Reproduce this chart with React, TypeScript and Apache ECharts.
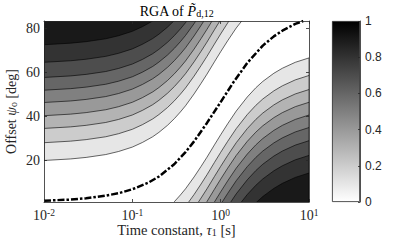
import React, { useEffect, useRef } from 'react';
import * as echarts from 'echarts';

// Contour geometry
const tauSamples = [0.01, 0.02, 0.03, 0.05, 0.07, 0.1, 0.13, 0.17, 0.2, 0.25, 0.3, 0.35, 0.4, 0.5, 0.6, 0.7, 0.85, 1, 1.2, 1.5, 2, 2.5, 3, 4, 5, 7, 10];
// ridge (centre of the white band) in degrees at each tau sample
const ridgePsi = [0.7, 1.4, 2.1, 3.4, 4.8, 6.8, 8.9, 11.5, 13.5, 16.7, 19.8, 22.8, 25.6, 31.0, 35.8, 40.0, 45.6, 50.2, 55.2, 61.0, 67.4, 71.6, 74.5, 78.2, 80.5, 83.2, 85.2];
const levels = [0.1, 0.2, 0.3, 0.4, 0.5, 0.6, 0.7, 0.8, 0.9];
// distance (deg) of each contour above the ridge (upper-left family)
const upperOffset = [19.2, 27.3, 33.8, 39.6, 45.6, 51.2, 57.0, 63.9, 71.9];
// distance (deg) of each contour below the ridge (lower-right family)
const lowerOffset = [18.6, 26.6, 33.0, 38.8, 44.6, 50.3, 56.3, 63.0, 71.0];

// dash-dot reference curve
const dashTau = [0.01, 0.02, 0.03, 0.05, 0.07, 0.1, 0.15, 0.2, 0.3, 0.4, 0.5, 0.7, 1, 1.4, 2, 3, 4, 5, 7, 8.6];
const dashPsi = [1.6, 2.1, 2.7, 3.9, 5.0, 6.8, 9.7, 12.6, 18.3, 23.7, 28.6, 37.0, 46.5, 55.6, 64.3, 72.2, 76.4, 79.0, 82.1, 83.4];

const yTicks = [20, 40, 60, 80];
const cbTicks = [0, 0.2, 0.4, 0.6, 0.8, 1];

const SERIF = '"Liberation Serif", "Times New Roman", serif';
const SANS = '"Liberation Sans", Arial, sans-serif';
const AX = '#262626';

export default function App() {
  const ref = useRef<HTMLDivElement>(null);
  useEffect(() => {
    document.body.style.margin = '0';
    const chart = echarts.init(ref.current!, null, { renderer: 'svg' });

    const bands: number[][] = [];
    levels.forEach((_, i) => bands.push([1, 40, 0, i]));
    levels.forEach((_, i) => bands.push([1, 40, 1, i]));

    const gray = (l: number) => {
      const g = Math.round(255 * (1 - l));
      return `rgb(${g},${g},${g})`;
    };

    const renderItem = (params: any, api: any) => {
      const fam = api.value(2);
      const k = api.value(3);
      const off = fam === 0 ? upperOffset[k] : -lowerOffset[k];
      const pts: number[][] = [];
      for (let i = 0; i < tauSamples.length; i++) {
        pts.push(api.coord([tauSamples[i], ridgePsi[i] + off]));
      }
      const edge = fam === 0 ? 400 : -400;
      pts.push(api.coord([tauSamples[tauSamples.length - 1], edge]));
      pts.push(api.coord([tauSamples[0], edge]));
      const cs = params.coordSys;
      return {
        type: 'group',
        clipPath: { type: 'rect', shape: { x: cs.x, y: cs.y, width: cs.width, height: cs.height } },
        children: [
          {
            type: 'polygon',
            shape: { points: pts },
            style: { fill: gray(levels[k]), stroke: '#000', lineWidth: 0.6 },
          },
        ],
      };
    };

    const lineStyle = { color: AX, width: 0.8 };
    const nameRich = (fill: string, size: number) => ({
      it: { fontFamily: SERIF, fontSize: size, fontStyle: 'italic', fill, lineHeight: 14 },
      sub: { fontFamily: SERIF, fontSize: Math.round(size * 0.68), fill, lineHeight: 8, verticalAlign: 'bottom' },
    });

    const option: any = {
      animation: false,
      grid: [
        { left: 44, top: 21, width: 265, height: 181 },
        { left: 332, top: 21, width: 28, height: 181 },
      ],
      xAxis: [
        {
          type: 'log', gridIndex: 0, min: 0.01, max: 10, logBase: 10, position: 'bottom', z: 10,
          axisLine: { show: true, lineStyle },
          axisTick: { show: true, inside: true, length: 3, lineStyle },
          splitLine: { show: false },
          axisLabel: {
            margin: 6,
            formatter: (v: number) => `{b|10}{s|${Math.round(Math.log10(v))}}`,
            rich: {
              b: { fontFamily: SERIF, fontSize: 14, color: AX, lineHeight: 14, verticalAlign: 'bottom' },
              s: { fontFamily: SERIF, fontSize: 9.5, color: AX, lineHeight: 8, verticalAlign: 'top' },
            },
          },
        },
        {
          type: 'log', gridIndex: 0, min: 0.01, max: 10, logBase: 10, position: 'top', z: 10,
          axisLine: { show: true, lineStyle },
          axisTick: { show: true, inside: true, length: 3, lineStyle },
          splitLine: { show: false },
          axisLabel: { show: false },
        },
        { type: 'category', gridIndex: 1, data: ['cb'], show: false },
      ],
      yAxis: [
        {
          type: 'value', gridIndex: 0, min: 1, max: 83.4, position: 'left', z: 10,
          axisLine: { show: true, lineStyle },
          axisTick: { show: true, inside: true, length: 3, lineStyle, customValues: yTicks },
          splitLine: { show: false },
          axisLabel: { customValues: yTicks, fontFamily: SERIF, fontSize: 14, color: AX, margin: 4 },
        },
        {
          type: 'value', gridIndex: 0, min: 1, max: 83.4, position: 'right', z: 10,
          axisLine: { show: true, lineStyle },
          axisTick: { show: true, inside: true, length: 3, lineStyle, customValues: yTicks },
          splitLine: { show: false },
          axisLabel: { show: false, customValues: yTicks },
        },
        {
          type: 'value', gridIndex: 1, min: 0, max: 1, interval: 0.2, position: 'right', z: 10,
          axisLine: { show: true, lineStyle },
          axisTick: { show: true, inside: true, length: 2, lineStyle, customValues: cbTicks },
          splitLine: { show: false },
          axisLabel: { customValues: cbTicks, fontFamily: SANS, fontSize: 12, color: AX, margin: 5 },
        },
      ],
      series: [
        {
          type: 'custom', xAxisIndex: 0, yAxisIndex: 0, renderItem, data: bands, clip: true, z: 1,
          encode: { x: 0, y: 1 }, silent: true,
        },
        {
          type: 'line', xAxisIndex: 0, yAxisIndex: 0, z: 3, clip: true,
          data: dashTau.map((t, i) => [t, dashPsi[i]]),
          showSymbol: false, symbol: 'none', silent: true,
          lineStyle: { color: '#000', width: 2.5, type: [7, 2, 2.5, 2], cap: 'butt' },
        },
        {
          type: 'bar', xAxisIndex: 2, yAxisIndex: 2, data: [1], barWidth: '100%', silent: true,
          itemStyle: {
            color: new echarts.graphic.LinearGradient(0, 0, 0, 1, [
              { offset: 0, color: '#000000' },
              { offset: 1, color: '#ffffff' },
            ]),
            borderColor: AX,
            borderWidth: 0.8,
          },
        },
      ],
      graphic: [
        {
          type: 'text', x: 176.5, y: 11,
          style: {
            text: 'RGA of {it|P\u0303}{sub|d,12}',
            fontFamily: SERIF, fontSize: 14, fill: '#000', align: 'center', verticalAlign: 'middle', lineHeight: 14,
            rich: nameRich('#000', 14),
          },
        },
        {
          type: 'text', x: 176.5, y: 230,
          style: {
            text: 'Time constant, {it|\u03c4}{sub|1} [s]',
            fontFamily: SERIF, fontSize: 14.5, fill: AX, align: 'center', verticalAlign: 'middle', lineHeight: 14,
            rich: nameRich(AX, 14.5),
          },
        },
        {
          type: 'text', x: 11, y: 111.5, rotation: Math.PI / 2,
          style: {
            text: 'Offset {it|\u03c8}{sub|o} [deg]',
            fontFamily: SERIF, fontSize: 14, fill: AX, align: 'center', verticalAlign: 'middle', lineHeight: 14,
            rich: nameRich(AX, 14),
          },
        },
      ],
    };

    chart.setOption(option);
    return () => chart.dispose();
  }, []);

  return <div ref={ref} style={{ width: 420, height: 242 }} />;
}
